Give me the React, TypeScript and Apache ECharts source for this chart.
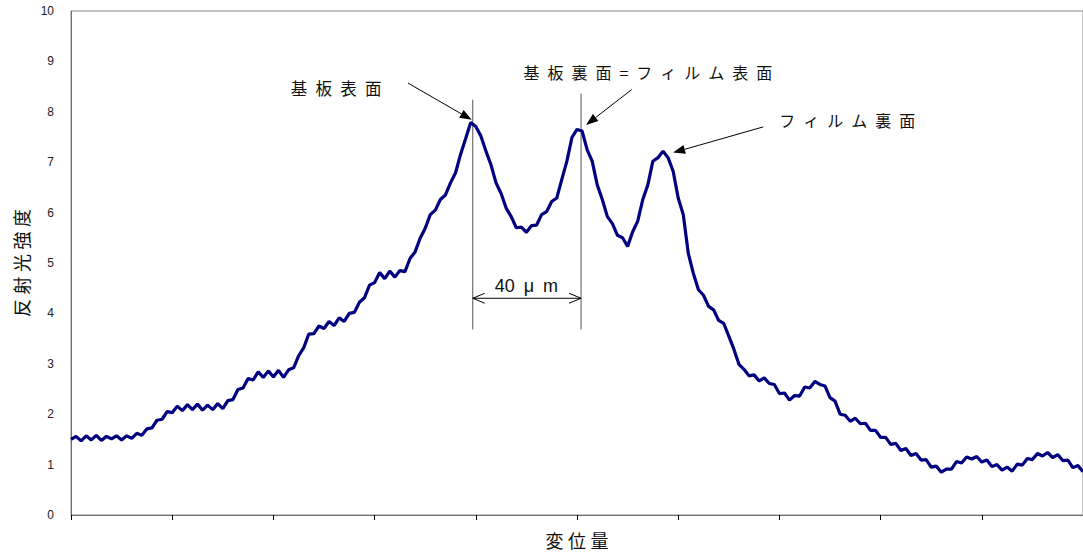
import React, { useEffect, useRef } from "react";
import * as echarts from "echarts";

// Reflected light intensity read along the displacement axis (0..1000, step 5), noise included
const intensity = [
  1.50, 1.56, 1.47, 1.57, 1.49, 1.58, 1.48, 1.56, 1.51, 1.57,
  1.49, 1.57, 1.52, 1.62, 1.58, 1.71, 1.73, 1.88, 1.90, 2.05,
  2.03, 2.16, 2.07, 2.19, 2.09, 2.20, 2.08, 2.18, 2.09, 2.21,
  2.11, 2.27, 2.29, 2.49, 2.52, 2.71, 2.68, 2.84, 2.73, 2.86,
  2.74, 2.87, 2.73, 2.88, 2.92, 3.16, 3.32, 3.59, 3.60, 3.75,
  3.70, 3.84, 3.76, 3.91, 3.84, 4.00, 4.02, 4.22, 4.31, 4.56,
  4.61, 4.81, 4.69, 4.84, 4.72, 4.85, 4.83, 5.09, 5.22, 5.49,
  5.69, 5.96, 6.05, 6.26, 6.35, 6.59, 6.79, 7.16, 7.47, 7.79,
  7.71, 7.52, 7.22, 6.95, 6.59, 6.38, 6.09, 5.92, 5.70, 5.71,
  5.61, 5.74, 5.75, 5.96, 6.02, 6.22, 6.29, 6.66, 7.02, 7.49,
  7.65, 7.62, 7.25, 7.02, 6.55, 6.26, 5.92, 5.78, 5.55, 5.50,
  5.33, 5.62, 5.83, 6.26, 6.55, 7.02, 7.09, 7.22, 7.09, 6.82,
  6.29, 5.96, 5.19, 4.79, 4.47, 4.36, 4.14, 4.07, 3.86, 3.80,
  3.55, 3.29, 2.99, 2.89, 2.76, 2.78, 2.66, 2.72, 2.61, 2.59,
  2.41, 2.42, 2.28, 2.37, 2.36, 2.54, 2.52, 2.65, 2.59, 2.56,
  2.33, 2.26, 2.00, 1.98, 1.86, 1.92, 1.81, 1.82, 1.68, 1.68,
  1.54, 1.54, 1.40, 1.42, 1.28, 1.32, 1.18, 1.22, 1.09, 1.10,
  0.95, 0.97, 0.85, 0.91, 0.91, 1.06, 1.03, 1.15, 1.11, 1.16,
  1.05, 1.09, 0.96, 1.00, 0.89, 0.95, 0.87, 1.01, 0.99, 1.12,
  1.10, 1.22, 1.17, 1.24, 1.14, 1.20, 1.08, 1.09, 0.94, 0.98,
  0.86,
];
const STEP = 5;

const xAxisName = "変\u2005位\u2005量";
const yAxisName = "反\u2005射\u2005光\u2005強\u2005度";
const peakLabels = [
  "基\u2002板\u2002表\u2002面",
  "基\u2002板\u2002裏\u2002面\u2002=\u2002フ\u2002ィ\u2002ル\u2002ム\u2002表\u2002面",
  "フ\u2002ィ\u2002ル\u2002ム\u2002裏\u2002面",
];
const spacingLabel = "40\u2002μ\u2002m";

const JP = '"Noto Sans CJK JP", "Noto Sans", sans-serif';
const LAT = '"Liberation Sans", Arial, sans-serif';

export default function App() {
  const ref = useRef<HTMLDivElement>(null);

  useEffect(() => {
    document.body.style.margin = "0";
    const chart = echarts.init(ref.current!, null, { renderer: "svg" });
    const data = intensity.map((v, i) => [i * STEP, v]);

    chart.setOption({
      animation: false,
      grid: {
        left: 71,
        top: 11,
        width: 1012,
        height: 505,
        show: true,
        borderColor: "#8a8a8a",
        borderWidth: 1,
      },
      xAxis: {
        type: "value",
        min: 0,
        max: 1000,
        interval: 100,
        axisLine: { show: true, lineStyle: { color: "#707070", width: 1 } },
        axisTick: { show: true, length: 5, lineStyle: { color: "#000" } },
        axisLabel: { show: false },
        splitLine: { show: false },
        name: xAxisName,
        nameLocation: "middle",
        nameGap: 16,
        nameTextStyle: { fontSize: 18, color: "#111", fontFamily: JP },
      },
      yAxis: {
        type: "value",
        min: 0,
        max: 10,
        interval: 1,
        axisLine: { show: true, lineStyle: { color: "#707070", width: 1 } },
        axisTick: { show: false },
        axisLabel: { color: "#222", fontSize: 12, margin: 17, fontFamily: LAT },
        splitLine: { show: false },
        name: yAxisName,
        nameLocation: "middle",
        nameRotate: 90,
        nameGap: 41,
        nameTextStyle: { fontSize: 18, color: "#111", fontFamily: JP },
      },
      series: [
        {
          type: "line",
          data,
          symbol: "none",
          showSymbol: false,
          lineStyle: { color: "#000080", width: 3.2, join: "bevel" },
          clip: true,
        },
      ],
    });

    const p = (x: number, y: number) =>
      chart.convertToPixel({ gridIndex: 0 }, [x, y]) as number[];

    const els: any[] = [];
    const lineEl = (a: number[], b: number[], color = "#000", w = 1) => ({
      type: "line",
      shape: { x1: a[0], y1: a[1], x2: b[0], y2: b[1] },
      style: { stroke: color, lineWidth: w },
      silent: true,
    });
    const filledArrow = (from: number[], to: number[]) => {
      const dx = to[0] - from[0];
      const dy = to[1] - from[1];
      const len = Math.hypot(dx, dy);
      const ux = dx / len;
      const uy = dy / len;
      const hl = 12;
      const hw = 4.5;
      const bx = to[0] - ux * hl;
      const by = to[1] - uy * hl;
      els.push(lineEl(from, [bx, by]));
      els.push({
        type: "polygon",
        shape: {
          points: [
            [to[0], to[1]],
            [bx - uy * hw, by + ux * hw],
            [bx + uy * hw, by - ux * hw],
          ],
        },
        style: { fill: "#000" },
        silent: true,
      });
    };
    const openHead = (tip: number[], dir: number) => {
      els.push({
        type: "polyline",
        shape: {
          points: [
            [tip[0] + dir * 12, tip[1] - 5],
            [tip[0], tip[1]],
            [tip[0] + dir * 12, tip[1] + 5],
          ],
        },
        style: { stroke: "#000", lineWidth: 1, fill: null },
        silent: true,
      });
    };
    const text = (pt: number[], s: string, font: string) => ({
      type: "text",
      x: pt[0],
      y: pt[1],
      style: {
        text: s,
        font,
        fill: "#111",
        align: "center",
        verticalAlign: "middle",
        textAlign: "center",
        textVerticalAlign: "middle",
      },
      silent: true,
    });

    // vertical reference lines at the two surface peaks
    els.push(lineEl(p(397, 8.24), p(397, 3.68), "#555"));
    els.push(lineEl(p(504, 8.36), p(504, 3.68), "#555"));
    // dimension arrow
    const dl = p(397, 4.3);
    const dr = p(504, 4.3);
    els.push(lineEl(dl, dr));
    openHead(dl, 1);
    openHead(dr, -1);
    els.push(text(p(450, 4.55), spacingLabel, `18px ${LAT}`));

    // pointer arrows
    filledArrow(p(333, 8.57), p(396, 7.84));
    filledArrow(p(554, 8.44), p(509, 7.74));
    filledArrow(p(684, 7.7), p(595, 7.19));

    els.push(text(p(262, 8.48), peakLabels[0], `16.5px ${JP}`));
    els.push(text(p(570, 8.79), peakLabels[1], `16px ${JP}`));
    els.push(text(p(767, 7.84), peakLabels[2], `16px ${JP}`));

    chart.setOption({ graphic: { elements: els } });

    return () => chart.dispose();
  }, []);

  return <div ref={ref} style={{ width: 1083, height: 554 }} />;
}
